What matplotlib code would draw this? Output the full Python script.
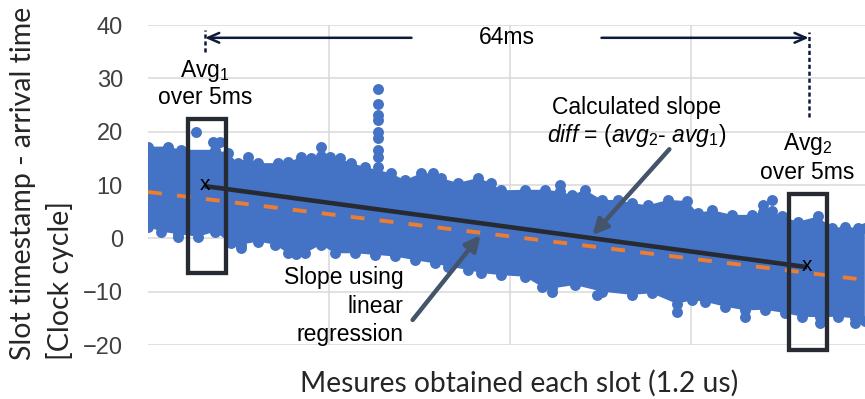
import matplotlib
matplotlib.use("Agg")
import matplotlib.pyplot as plt
from matplotlib.patches import Rectangle

plt.rcParams['lines.scale_dashes'] = False
plt.rcParams['mathtext.fontset'] = 'custom'
plt.rcParams['mathtext.it'] = 'Liberation Sans:italic'
plt.rcParams['mathtext.rm'] = 'Liberation Sans'

# ---------------- data ----------------
# slot index (one slot = 1.2 us); vertical grid every 16000 slots (19.2 ms)
upper_x = [0, 1768, 2917, 5923, 7072, 7956, 8840, 9724, 11492, 12376, 13525, 14409,
           15293, 16089, 16973, 17945, 19182, 21481, 22718, 24133, 25194, 25901,
           27404, 29172, 30321, 31205, 33327, 35095, 36421, 37482, 38631, 40134,
           41548, 42786, 44200, 45968, 47648, 48620, 49858, 51626, 53394, 54366,
           55162, 56046, 57460, 59228, 60466, 61615, 62764, 63383]
upper_y = [17.2, 17.2, 16.6, 16.6, 16.0, 14.1, 15.2, 14.1, 14.1, 14.3, 15.2, 15.0,
           15.5, 15.2, 15.0, 14.1, 13.4, 12.2, 10.9, 12.2, 12.2, 11.3,
           10.4, 11.3, 10.4, 9.0, 9.1, 9.1, 8.8, 8.1, 9.1, 7.2,
           7.2, 6.6, 6.2, 7.2, 7.0, 4.7, 5.3, 4.4, 4.4, 5.0,
           5.2, 4.1, 3.1, 4.1, 1.9, 2.2, 1.9, 2.0]

lower_x = [0, 1149, 2652, 4420, 5923, 7337, 8221, 9724, 11227, 12376, 13879, 15293,
           16531, 18299, 20067, 21835, 23603, 25371, 26520, 28288, 29437, 31205,
           33327, 34830, 35714, 37747, 40134, 42786, 44554, 46764, 48090, 49239,
           51007, 52775, 54543, 56311, 57814, 59405, 60996, 62499, 63383]
lower_y = [2.2, 1.25, 0.8, 0.3, 1.25, -0.9, -1.2, -0.6, -1.2, -2.8, -2.8, -1.2,
           -2.8, -2.8, -3.1, -3.4, -4.1, -4.7, -5.3, -5.9, -6.5, -6.9,
           -7.2, -9.1, -9.4, -8.75, -10.0, -10.6, -10.3, -12.3, -11.6, -11.9,
           -12.8, -13.5, -13.4, -14.0, -14.7, -14.8, -14.7, -15.0, -15.5]

outlier_x = [4243, 5746, 6365, 15293, 36421, 54366, 55162,
             2652, 8221, 13100, 35714, 39700, 46764, 52775, 59405, 62499,
             20300, 20300, 20300, 20300, 20300, 20300, 20300, 20300, 20300]
outlier_y = [20.0, 18.1, 18.1, 17.1, 10.0, 6.2, 7.2,
             0.3, -1.8, -3.0, -10.0, -10.6, -13.75, -14.7, -15.9, -15.9,
             28.0, 25.2, 23.1, 22.2, 19.9, 18.8, 16.6, 15.3, 13.4]

reg_x = [0, 63400]
reg_y = [8.7, -7.8]

avg_x = [5000, 58300]
avg_y = [9.8, -5.4]

y_ticks = [-20, -10, 0, 10, 20, 30, 40]
x_grid = [16000, 32000, 48000]

# ---------------- figure ----------------
W, H = 865, 399
fig = plt.figure(figsize=(W / 100, H / 100), dpi=100)
ax = fig.add_axes([148 / W, (H - 345) / H, (865 - 148) / W, 320 / H])
ax.set_xlim(0, 63400)
ax.set_ylim(-20, 40)

for s in ax.spines.values():
    s.set_visible(False)
ax.set_yticks(y_ticks)
ax.set_xticks(x_grid)
ax.set_xticklabels([])
ax.tick_params(length=0)
ax.tick_params(axis='y', pad=18, labelsize=17, labelcolor='#404040')
for lab in ax.get_yticklabels():
    lab.set_fontfamily('Liberation Sans')
ax.grid(True, color='#d9d9d9', lw=1.1, zorder=0)
ax.set_axisbelow(True)

blue = '#4472c4'
poly_x = list(upper_x) + list(lower_x)[::-1]
poly_y = list(upper_y) + list(lower_y)[::-1]
ax.fill(poly_x, poly_y, color=blue, lw=0, zorder=2)
ms = 62
ax.scatter(upper_x, upper_y, s=ms, color=blue, lw=0, zorder=2)
ax.scatter(lower_x, lower_y, s=ms, color=blue, lw=0, zorder=2)
ax.scatter(outlier_x, outlier_y, s=ms, color=blue, lw=0, zorder=2)

# regression line (orange dashed)
ax.plot(reg_x, reg_y, color='#ed7d31', lw=2.8, dashes=(10, 11), zorder=3)
# calculated slope line
dark = '#262b33'
ax.plot(avg_x, avg_y, color=dark, lw=3.3, zorder=4, solid_capstyle='butt')
for xx, yy in zip(avg_x, avg_y):
    ax.text(xx, yy + 0.3, 'x', fontsize=15, family='Liberation Sans', ha='center', va='center',
            color='black', zorder=6)

# rectangles
ax.add_patch(Rectangle((3540, -6.5), 3350, 28.9, fill=False, ec=dark, lw=3.1, zorder=5, clip_on=False))
ax.add_patch(Rectangle((56660, -20.9), 3360, 29.2, fill=False, ec=dark, lw=3.1, zorder=5, clip_on=False))

# 64ms dimension arrow
navy = '#0d1a3a'
ax.plot([5040, 5040], [34.9, 39.1], color=navy, lw=1.8, ls=(0, (3, 2)), zorder=5)
ax.plot([58430, 58430], [22.7, 38.7], color=navy, lw=1.8, ls=(0, (3, 2)), zorder=5)
ax.annotate('', xy=(5040, 37.6), xytext=(23300, 37.6),
            arrowprops=dict(arrowstyle='->,head_length=0.8,head_width=0.35', color=navy, lw=1.8,
                            shrinkA=0, shrinkB=0))
ax.annotate('', xy=(58430, 37.6), xytext=(40100, 37.6),
            arrowprops=dict(arrowstyle='->,head_length=0.8,head_width=0.35', color=navy, lw=1.8,
                            shrinkA=0, shrinkB=0))

tfont = dict(family='Liberation Sans', fontsize=16.5, color='black')
ax.text(31700, 37.6, '64ms', ha='center', va='center', **tfont)
ax.text(5040, 31.4, 'Avg$_1$', ha='center', va='center', **tfont)
ax.text(5040, 26.4, 'over 5ms', ha='center', va='center', **tfont)
ax.text(58300, 17.6, 'Avg$_2$', ha='center', va='center', **tfont)
ax.text(58300, 12.4, 'over 5ms', ha='center', va='center', **tfont)

ax.text(43200, 24.6, 'Calculated slope', ha='center', va='center', **tfont)
ax.text(43200, 19.2, r'$\mathit{diff}$ = ($\mathit{avg}_2$- $\mathit{avg}_1$)', ha='center',
        va='center', **tfont)
ax.text(22600, -12.7, 'Slope using\nlinear\nregression', ha='right', va='center',
        linespacing=1.3, **tfont)

gray_arrow = '#44546a'
ax.annotate('', xy=(29400, 0.6), xytext=(23400, -15.3),
            arrowprops=dict(arrowstyle='-|>,head_length=0.9,head_width=0.45', color=gray_arrow,
                            lw=3.2, shrinkA=0, shrinkB=0))
ax.annotate('', xy=(39300, 0.6), xytext=(46100, 16.7),
            arrowprops=dict(arrowstyle='-|>,head_length=0.9,head_width=0.45', color=gray_arrow,
                            lw=3.2, shrinkA=0, shrinkB=0))

# axis titles
lfont = dict(family='Lato', color='#262626')
fig.text(519 / W, 1 - 383 / H, 'Mesures obtained each slot (1.2 us)', ha='center', va='center',
         fontsize=20.3, **lfont)
fig.text(23 / W, 1 - 360 / H, 'Slot timestamp - arrival time', ha='left', va='center',
         rotation=90, rotation_mode='anchor', fontsize=20.5, **lfont)
fig.text(60 / W, 1 - 360 / H, '[Clock cycle]', ha='left', va='center',
         rotation=90, rotation_mode='anchor', fontsize=20.5, **lfont)

fig.savefig('out.png', dpi=100)
